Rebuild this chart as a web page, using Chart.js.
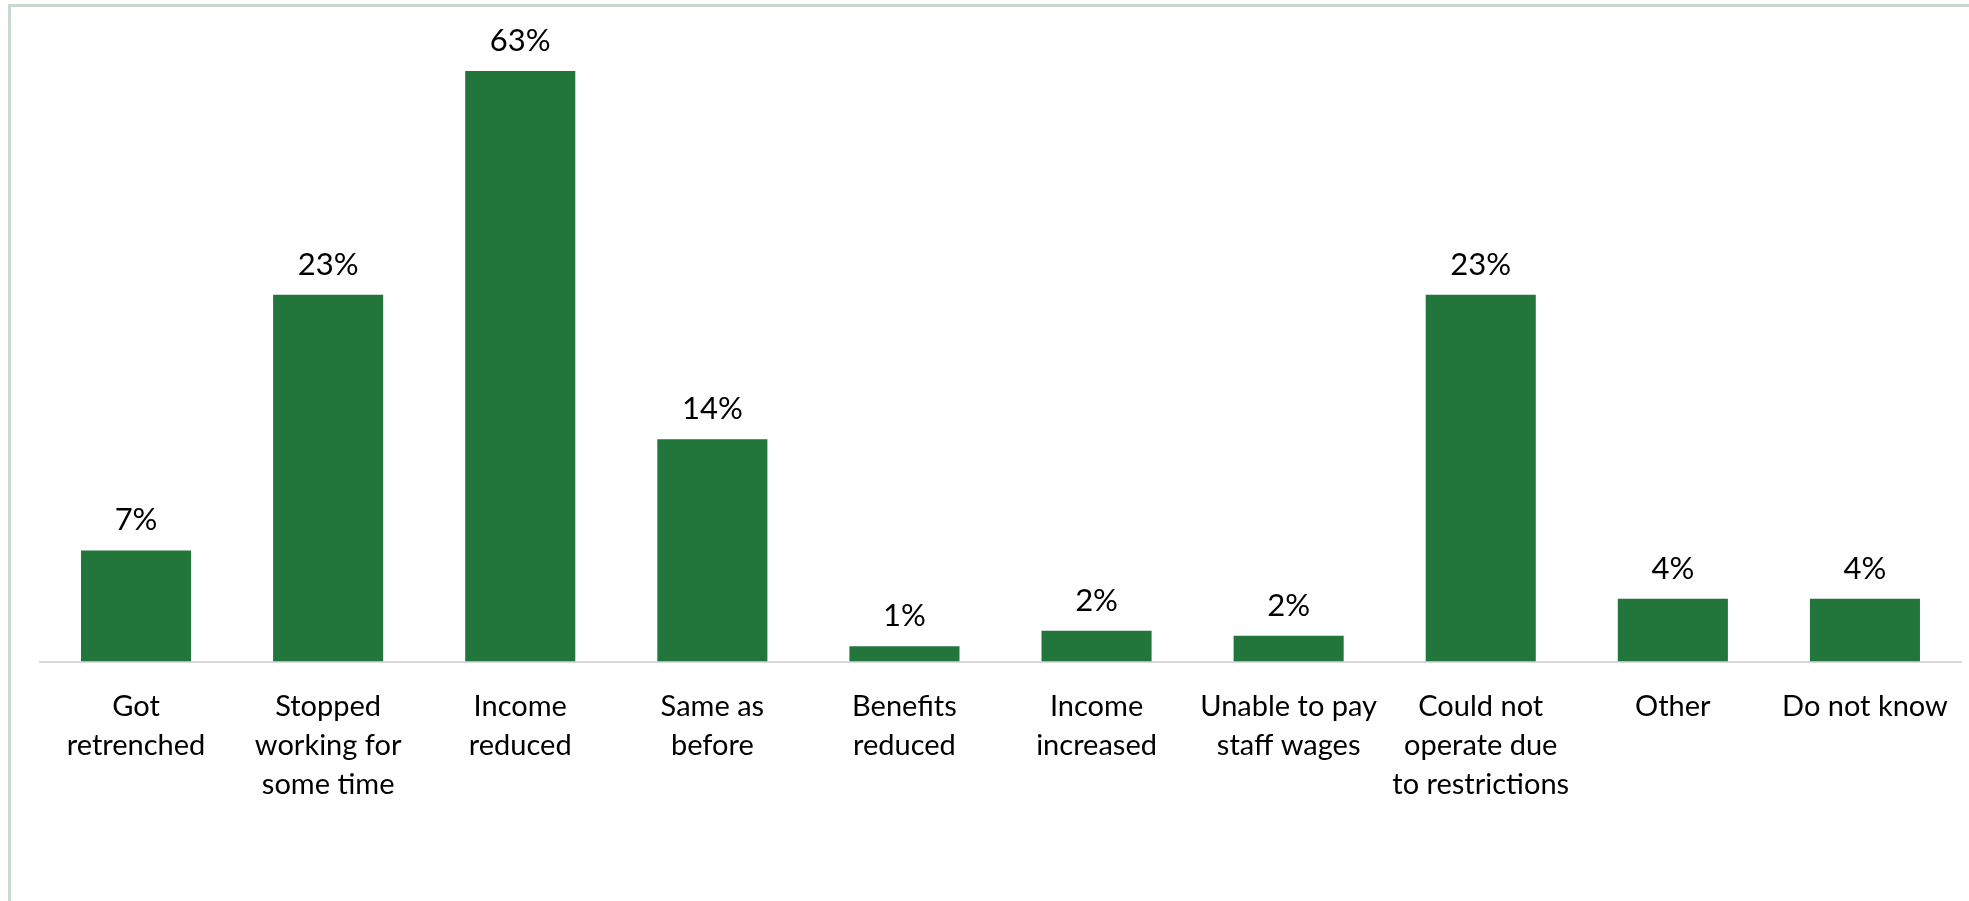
<!DOCTYPE html>
<html>
<head>
<meta charset="utf-8">
<script src="https://cdn.jsdelivr.net/npm/chart.js@4.4.1/dist/chart.umd.min.js"></script>
<style>
  html, body { margin: 0; padding: 0; background: #fff; }
  #wrap { position: relative; width: 1969px; height: 901px; overflow: hidden; }
  #frame {
    position: absolute; left: 8px; top: 4px; right: -10px; bottom: -10px;
    border-left: 3px solid #c9d9cf; border-top: 3px solid #c9d9cf;
  }
  canvas { position: absolute; left: 0; top: 0; }
</style>
</head>
<body>
<div id="wrap">
  <div id="frame"></div>
  <canvas id="chart" width="1969" height="901"></canvas>
</div>
<script>
// Data
const categories = [
  ['Got', 'retrenched'],
  ['Stopped', 'working for', 'some time'],
  ['Income', 'reduced'],
  ['Same as', 'before'],
  ['Benefits', 'reduced'],
  ['Income', 'increased'],
  ['Unable to pay', 'staff wages'],
  ['Could not', 'operate due', 'to restrictions'],
  ['Other'],
  ['Do not know']
];
const shares = [7.0, 23.1, 63, 14.0, 0.96, 1.94, 1.63, 23.1, 3.96, 3.96];
// axis is capped below the tallest bar, as in the original
const axisMax = 37.2;

const green = '#22763b';
const labelFont = { family: 'Lato', size: 31 };

// value labels above bars (clipped bars get their label above the plot area)
const barLabels = {
  id: 'barLabels',
  afterDatasetsDraw(chart) {
    const ctx = chart.ctx;
    const top = chart.chartArea.top;
    const meta = chart.getDatasetMeta(0);
    ctx.save();
    ctx.font = `${labelFont.size}px ${labelFont.family}`;
    ctx.fillStyle = '#000';
    ctx.textAlign = 'center';
    ctx.textBaseline = 'alphabetic';
    meta.data.forEach((bar, i) => {
      const y = Math.max(bar.y, top);
      ctx.fillText(Math.round(shares[i]) + '%', bar.x, y - 20);
    });
    ctx.restore();
  }
};

new Chart(document.getElementById('chart'), {
  type: 'bar',
  data: {
    labels: categories,
    datasets: [{
      data: shares,
      backgroundColor: green,
      borderWidth: 0,
      barPercentage: 0.573,
      categoryPercentage: 1
    }]
  },
  options: {
    responsive: false,
    animation: false,
    layout: { padding: { top: 71, left: 40, right: 8, bottom: 0 } },
    plugins: {
      legend: { display: false },
      tooltip: { enabled: false }
    },
    scales: {
      x: {
        grid: { display: false, drawTicks: false },
        border: { display: true, color: '#d9d9d9', width: 2 },
        ticks: {
          color: '#000',
          padding: 26,
          maxRotation: 0,
          autoSkip: false,
          font: { family: 'Lato', size: 29, lineHeight: 1.345 }
        },
        afterFit(scale) {
          scale.height = 239.5;
          scale.paddingLeft = 0;
          scale.paddingRight = 0;
        }
      },
      y: {
        display: false,
        min: 0,
        max: axisMax
      }
    }
  },
  plugins: [barLabels]
});
</script>
</body>
</html>
